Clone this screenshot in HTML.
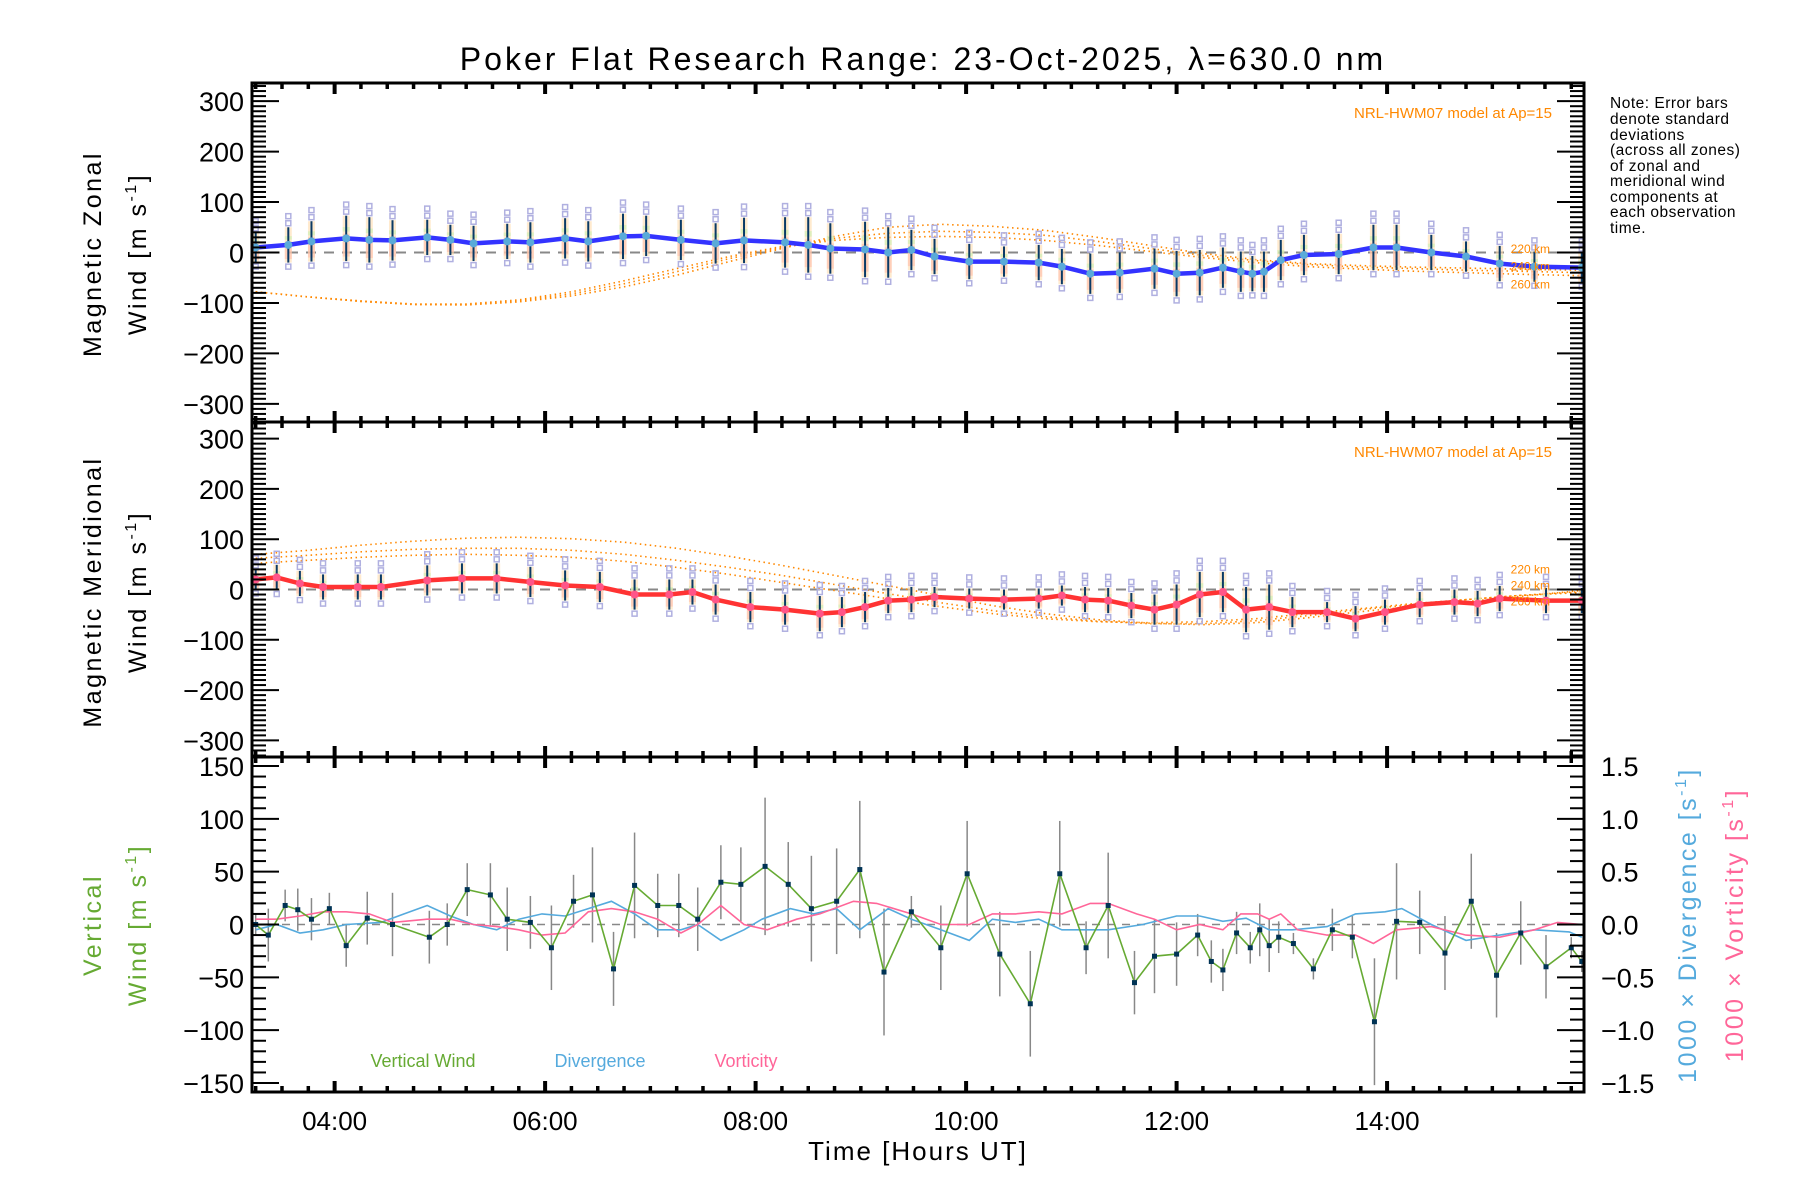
<!DOCTYPE html>
<html><head><meta charset="utf-8">
<style>
html,body{margin:0;padding:0;background:#fff;}
svg{display:block;font-family:"Liberation Sans","DejaVu Sans",sans-serif;}
</style></head>
<body>
<svg id="chart" width="1800" height="1200" viewBox="0 0 1800 1200" xmlns="http://www.w3.org/2000/svg">
<rect width="1800" height="1200" fill="#fff"/>
<text x="923" y="70" font-size="32" text-anchor="middle" letter-spacing="3">Poker Flat Research Range: 23-Oct-2025, λ=630.0 nm</text>
<g font-size="15.5" fill="#000" letter-spacing="0.5">
<text x="1610" y="108">Note: Error bars</text>
<text x="1610" y="124">denote standard</text>
<text x="1610" y="140">deviations</text>
<text x="1610" y="155">(across all zones)</text>
<text x="1610" y="171">of zonal and</text>
<text x="1610" y="186">meridional wind</text>
<text x="1610" y="202">components at</text>
<text x="1610" y="217">each observation</text>
<text x="1610" y="233">time.</text>
</g>
<g id="plots"></g>
<text x="918" y="1160" font-size="26" text-anchor="middle" letter-spacing="2">Time [Hours UT]</text>
<g font-size="25" letter-spacing="2.5">
<text transform="translate(101,254) rotate(-90)" text-anchor="middle">Magnetic Zonal</text>
<text transform="translate(146,254) rotate(-90)" text-anchor="middle">Wind [m s<tspan font-size="16" dy="-10">-1</tspan><tspan dy="10">]</tspan></text>
</g>
<g font-size="25" letter-spacing="2.5">
<text transform="translate(101,592) rotate(-90)" text-anchor="middle">Magnetic Meridional</text>
<text transform="translate(146,592) rotate(-90)" text-anchor="middle">Wind [m s<tspan font-size="16" dy="-10">-1</tspan><tspan dy="10">]</tspan></text>
</g>
<g font-size="25" letter-spacing="2.5" fill="#66aa33">
<text transform="translate(101,925) rotate(-90)" text-anchor="middle">Vertical</text>
<text transform="translate(146,925) rotate(-90)" text-anchor="middle">Wind [m s<tspan font-size="16" dy="-10">-1</tspan><tspan dy="10">]</tspan></text>
</g>
<text transform="translate(1696,925) rotate(-90)" text-anchor="middle" font-size="25" letter-spacing="2.5" fill="#55aadd">1000 × Divergence [s<tspan font-size="16" dy="-10">-1</tspan><tspan dy="10">]</tspan></text>
<text transform="translate(1743,925) rotate(-90)" text-anchor="middle" font-size="25" letter-spacing="2.5" fill="#ff6699">1000 × Vorticity [s<tspan font-size="16" dy="-10">-1</tspan><tspan dy="10">]</tspan></text>
<g font-size="18">
<text x="423" y="1067" text-anchor="middle" fill="#66aa33">Vertical Wind</text>
<text x="600" y="1067" text-anchor="middle" fill="#55aadd">Divergence</text>
<text x="746" y="1067" text-anchor="middle" fill="#ff6699">Vorticity</text>
</g>
</svg>
<script>
// ---- data ----
const zonalTimes=[3.25,3.56,3.78,4.11,4.33,4.55,4.88,5.10,5.32,5.64,5.86,6.19,6.41,6.74,6.96,7.29,7.62,7.89,8.28,8.50,8.71,9.04,9.26,9.48,9.70,10.03,10.36,10.69,10.91,11.18,11.46,11.79,12.00,12.22,12.44,12.61,12.72,12.83,12.99,13.21,13.54,13.87,14.09,14.42,14.75,15.07,15.40,15.85];
const zonalWind=[10,15,22,28,25,24,30,25,18,22,20,28,22,32,33,25,18,24,20,15,8,6,0,5,-8,-18,-18,-20,-28,-42,-40,-32,-42,-40,-30,-38,-42,-38,-15,-5,-3,10,10,0,-8,-22,-28,-30];
const zonalErr=[30,35,40,45,45,40,35,30,35,35,40,40,40,45,40,40,40,45,50,55,50,55,50,40,35,35,30,35,35,40,40,40,45,45,40,40,35,40,40,40,40,45,45,35,30,35,30,30];
const meridTimes=[3.25,3.45,3.67,3.89,4.22,4.44,4.88,5.21,5.54,5.86,6.19,6.52,6.85,7.18,7.40,7.62,7.95,8.28,8.61,8.82,9.04,9.26,9.48,9.70,10.03,10.36,10.69,10.91,11.13,11.35,11.57,11.79,12.00,12.22,12.44,12.66,12.88,13.10,13.43,13.70,13.98,14.31,14.64,14.86,15.07,15.51,15.85];
const meridWind=[20,24,12,5,5,5,18,22,22,15,8,5,-10,-10,-5,-20,-35,-40,-48,-45,-35,-22,-20,-15,-18,-20,-18,-12,-20,-22,-32,-40,-30,-10,-5,-40,-35,-45,-45,-58,-45,-30,-25,-28,-18,-22,-22];
const meridErr=[20,25,25,25,25,25,30,30,30,30,30,30,30,30,25,30,30,30,35,30,30,25,25,20,20,20,20,20,25,25,25,30,40,45,40,45,45,30,20,25,25,25,25,25,25,25,25];
const modelTimes=[3.25,3.75,4.25,4.75,5.25,5.75,6.25,6.75,7.25,7.75,8.25,8.75,9.25,9.75,10.25,10.75,11.25,11.75,12.25,12.75,13.25,13.75,14.25,14.75,15.25,15.85];
const zonalModel220=[-78,-88,-97,-103,-104,-98,-86,-68,-45,-18,8,32,50,56,52,44,30,14,-2,-14,-22,-26,-29,-31,-33,-35];
const zonalModel240=[-78,-88,-97,-103,-103,-96,-82,-62,-38,-12,10,28,38,42,40,34,22,8,-6,-16,-24,-29,-32,-35,-37,-40];
const zonalModel260=[-78,-88,-96,-102,-102,-94,-78,-56,-32,-8,12,24,30,32,30,24,14,2,-10,-20,-28,-33,-37,-40,-43,-46];
const meridModel220=[70,78,88,96,102,104,101,94,82,66,48,28,8,-12,-32,-48,-60,-67,-70,-66,-56,-44,-34,-24,-14,-2];
const meridModel240=[62,68,75,80,82,82,78,70,58,44,28,10,-8,-26,-42,-54,-63,-68,-68,-62,-52,-40,-30,-20,-12,-4];
const meridModel260=[52,58,64,68,70,68,64,56,44,30,14,-2,-18,-34,-48,-58,-64,-66,-64,-58,-48,-38,-28,-20,-12,-6];
const vertTimes=[3.25,3.37,3.53,3.65,3.78,3.95,4.11,4.31,4.55,4.90,5.07,5.26,5.48,5.64,5.86,6.06,6.27,6.45,6.65,6.85,7.07,7.27,7.45,7.67,7.86,8.09,8.31,8.53,8.77,8.99,9.22,9.48,9.76,10.01,10.32,10.61,10.89,11.14,11.35,11.60,11.79,12.00,12.20,12.33,12.44,12.57,12.70,12.79,12.88,12.97,13.11,13.30,13.48,13.67,13.88,14.09,14.31,14.55,14.80,15.04,15.27,15.51,15.75,15.85];
const vertWind=[0,-10,18,14,5,15,-20,6,0,-12,0,33,28,5,2,-22,22,28,-42,37,18,18,5,40,38,55,38,15,22,52,-45,12,-22,48,-28,-75,48,-22,18,-55,-30,-28,-10,-35,-43,-8,-22,-5,-20,-12,-18,-42,-5,-12,-92,3,2,-27,22,-48,-8,-40,-22,-35];
const vertErr=[10,25,15,20,20,15,20,25,30,25,20,25,30,30,25,40,25,45,35,50,30,30,30,35,35,65,40,50,50,65,60,15,40,50,40,50,50,25,50,30,35,30,20,20,20,20,15,25,25,15,10,10,20,20,60,55,30,35,45,40,30,30,10,10];
const divTimes=[3.25,3.45,3.67,3.89,4.11,4.44,4.66,4.88,5.10,5.32,5.54,5.75,5.97,6.19,6.41,6.63,6.85,7.07,7.29,7.45,7.67,7.89,8.06,8.33,8.55,8.77,8.99,9.26,9.48,9.76,10.03,10.25,10.47,10.69,10.91,11.13,11.35,11.68,12.00,12.22,12.44,12.66,12.88,13.10,13.43,13.70,13.98,14.14,14.42,14.75,15.07,15.40,15.73,15.85];
const divergence=[-0.05,0,-0.08,-0.05,0,0.02,0.10,0.18,0.08,0,-0.05,0.05,0.10,0.08,0.15,0.22,0.10,-0.05,-0.05,0,-0.15,-0.05,0.05,0.15,0.10,0.15,-0.05,0.15,0.05,-0.05,-0.15,0.05,0.02,0.05,-0.05,-0.05,-0.05,0,0.08,0.08,0.03,0.06,-0.05,-0.05,-0.02,0.10,0.12,0.15,0,-0.15,-0.10,-0.05,-0.07,-0.12];
const vortTimes=[3.25,3.45,3.67,3.89,4.11,4.33,4.55,4.88,5.10,5.32,5.54,5.75,5.97,6.19,6.41,6.63,6.85,7.07,7.29,7.45,7.67,7.89,8.11,8.39,8.61,8.93,9.15,9.48,9.76,10.03,10.25,10.47,10.69,10.91,11.18,11.35,11.62,11.79,12.00,12.22,12.44,12.61,12.77,12.88,12.99,13.15,13.43,13.70,13.87,14.09,14.42,14.75,15.07,15.40,15.62,15.85];
const vorticity=[0.05,0.05,0.08,0.12,0.12,0.10,0.02,0.05,0.05,0,-0.02,-0.05,-0.10,-0.08,0.12,0.15,0.12,0.05,-0.08,0,0.18,0,-0.05,0.05,0.10,0.22,0.20,0.10,0,0,0.10,0.10,0.12,0.10,0.20,0.20,0.10,0.05,-0.05,0,-0.05,0.10,0.10,0.05,0.10,-0.05,-0.10,-0.10,-0.18,-0.05,-0.02,-0.10,-0.12,-0.05,0.02,0];
const xTickHours=[4,6,8,10,12,14];
const xTickLabels=["04:00","06:00","08:00","10:00","12:00","14:00"];
const windTicks=[-300,-200,-100,0,100,200,300];
const vertTicks=[-150,-100,-50,0,50,100,150];
const rightTicks=[-1.5,-1.0,-0.5,0.0,0.5,1.0,1.5];
const modelLabels=["220 km","240 km","260 km"];

// ---- layout ----
const NS="http://www.w3.org/2000/svg";
const L=252,R=1584,T0=3.215,T1=15.871;
const panels=[{top:83,bot:422,min:-336,max:336},{top:422,bot:757,min:-333,max:333},{top:757,bot:1092,min:-158.5,max:158.5}];
const xS=t=>L+(t-T0)/(T1-T0)*(R-L);
const yS=(p,v)=>p.bot-(v-p.min)/(p.max-p.min)*(p.bot-p.top);
const p3R={min:-1.585,max:1.585};
const yR=v=>panels[2].bot-(v-p3R.min)/(p3R.max-p3R.min)*(panels[2].bot-panels[2].top);
const root=document.getElementById('plots');
function mk(tag,attrs,parent){const e=document.createElementNS(NS,tag);for(const k in attrs)e.setAttribute(k,attrs[k]);(parent||root).appendChild(e);return e;}
function grp(name){const g=mk('g',{});return g;}
function poly(g,ts,vs,fy,attrs){mk('polyline',Object.assign({points:ts.map((t,i)=>xS(t).toFixed(1)+','+fy(vs[i]).toFixed(1)).join(' '),fill:'none'},attrs),g);}

const defs=mk('defs',{});
panels.forEach((p,i)=>{const c=mk('clipPath',{id:'clip'+i},defs);mk('rect',{x:L,y:p.top,width:R-L,height:p.bot-p.top},c);});

function windPanel(pi,times,vals,errs,models,color,label){
  const p=panels[pi],fy=v=>yS(p,v);
  const g=grp(label+'-panel');g.setAttribute('clip-path','url(#clip'+pi+')');
  const z=mk('line',{x1:L,x2:R,y1:fy(0),y2:fy(0),stroke:'#888','stroke-width':2,'stroke-dasharray':'10,8'},g);
  
  const gm=grp(label+'-model-lines');g.appendChild(gm);
  models.forEach(m=>poly(gm,modelTimes,m,fy,{stroke:'#ff8800','stroke-width':1.6,'stroke-dasharray':'1.5,3.5'}));
  const ge=grp(label+'-error-bars');g.appendChild(ge);
  times.forEach((t,i)=>{
    const x=xS(t),v=vals[i],e=errs[i];
    mk('rect',{x:x-3.5,y:fy(v+e),width:7,height:fy(v-e)-fy(v+e),fill:'#ffdcae',opacity:0.6},ge);
    mk('rect',{x:x-3.5,y:fy(v+e*0.2),width:7,height:fy(v-e*0.8)-fy(v+e*0.2),fill:'#ffb8a8',opacity:0.55},ge);
    mk('rect',{x:x-3.5,y:fy(v+e*0.5),width:7,height:fy(v+e*0.3)-fy(v+e*0.5),fill:'#c8f0b0',opacity:0.6},ge);
    [v+e+8,v-e-8,v+e+22].forEach(q=>mk('rect',{x:x-2.5,y:fy(q)-2.5,width:5,height:5,fill:'none',stroke:'#b0b0e0','stroke-width':1.5},ge));
    const eb=mk('line',{x1:x,x2:x,y1:fy(v+e),y2:fy(v-e),stroke:'#0a3a66','stroke-width':2},ge);
    
  });
  const gl=grp(label+'-wind-line');g.appendChild(gl);
  poly(gl,times,vals,fy,{stroke:color,'stroke-width':4.5,'stroke-linejoin':'round'});
  times.forEach((t,i)=>{const c=mk('circle',{cx:xS(t),cy:fy(vals[i]),r:4,fill:pi==0?'#5aaad8':'#ff5588'},gl);
    });
  const tx=mk('text',{x:1552,y:p.top+35,'font-size':15,fill:'#ff8800','text-anchor':'end'});
  tx.textContent='NRL-HWM07 model at Ap=15';
  
  const endI=modelTimes.length-1;
  models.forEach((m,k)=>{const t2=mk('text',{x:1550,y:fy(m[endI])+(k-1)*15-2,'font-size':12,fill:'#ff8800','text-anchor':'end'});t2.textContent=modelLabels[k];
    });
}
windPanel(0,zonalTimes,zonalWind,zonalErr,[zonalModel220,zonalModel240,zonalModel260],'#3333ff','zonal');
windPanel(1,meridTimes,meridWind,meridErr,[meridModel220,meridModel240,meridModel260],'#ff3333','meridional');

(function(){
  const p=panels[2],fy=v=>yS(p,v);
  const g=grp('vertical-panel');g.setAttribute('clip-path','url(#clip2)');
  mk('line',{x1:L,x2:R,y1:fy(0),y2:fy(0),stroke:'#888','stroke-width':1.5,'stroke-dasharray':'8,7'},g);
  const ge=grp('vertical-error-bars');g.appendChild(ge);
  vertTimes.forEach((t,i)=>mk('line',{x1:xS(t),x2:xS(t),y1:fy(vertWind[i]+vertErr[i]),y2:fy(vertWind[i]-vertErr[i]),stroke:'#888','stroke-width':1.5},ge));
  const gd=grp('divergence-line');g.appendChild(gd);poly(gd,divTimes,divergence,yR,{stroke:'#55aadd','stroke-width':1.6});
  const gv=grp('vorticity-line');g.appendChild(gv);poly(gv,vortTimes,vorticity,yR,{stroke:'#ff6699','stroke-width':1.6});
  const gw=grp('vertical-wind-line');g.appendChild(gw);poly(gw,vertTimes,vertWind,fy,{stroke:'#66aa33','stroke-width':1.6});
  vertTimes.forEach((t,i)=>{const r=mk('rect',{x:xS(t)-2.5,y:fy(vertWind[i])-2.5,width:5,height:5,fill:'#003355'},gw);
    });
})();

function axes(){
  const g=grp('axes');
  panels.forEach((p,pi)=>{
    mk('rect',{x:L,y:p.top,width:R-L,height:p.bot-p.top,fill:'none',stroke:'#000','stroke-width':3},g);
    for(let t=3.25;t<=T1;t+=0.25){
      const x=xS(t),maj=Math.abs(t/2-Math.round(t/2))<1e-6;
      const len=maj?11:6;
      mk('line',{x1:x,x2:x,y1:p.bot,y2:p.bot-len,stroke:'#000','stroke-width':maj?4:3.5},g);
      mk('line',{x1:x,x2:x,y1:p.top,y2:p.top+len,stroke:'#000','stroke-width':maj?4:3.5},g);
    }
    const ticks=pi<2?windTicks:vertTicks, minorStep=10, majStep=pi<2?100:50;
    const fy=v=>yS(p,v);
    for(let v=Math.ceil(p.min/minorStep)*minorStep;v<=p.max;v+=minorStep){
      const maj=v%majStep===0, len=maj?27:14;
      mk('line',{x1:L,x2:L+len,y1:fy(v),y2:fy(v),stroke:'#000','stroke-width':2},g);
      if(pi<2) mk('line',{x1:R,x2:R-len,y1:fy(v),y2:fy(v),stroke:'#000','stroke-width':2},g);
    }
    ticks.forEach(v=>{const tx=mk('text',{x:L-8,y:fy(v)+10,'font-size':27,'text-anchor':'end'},g);tx.textContent=(v<0?'−':'')+Math.abs(v);
      });
  });
  for(let k=-15;k<=15;k++){const v=k/10,maj=k%5===0,len=maj?27:14;
    mk('line',{x1:R,x2:R-len,y1:yR(v),y2:yR(v),stroke:'#000','stroke-width':2},g);}
  rightTicks.forEach(v=>{const tx=mk('text',{x:R+17,y:yR(v)+10,'font-size':27,'text-anchor':'start'},g);
    tx.textContent=(v<0?'−':'')+Math.abs(v).toFixed(1);
    });
  xTickHours.forEach((h,i)=>{const tx=mk('text',{x:xS(h),y:1130,'font-size':26,'text-anchor':'middle'},g);tx.textContent=xTickLabels[i];
    });
}
axes();
</script>
</body></html>
